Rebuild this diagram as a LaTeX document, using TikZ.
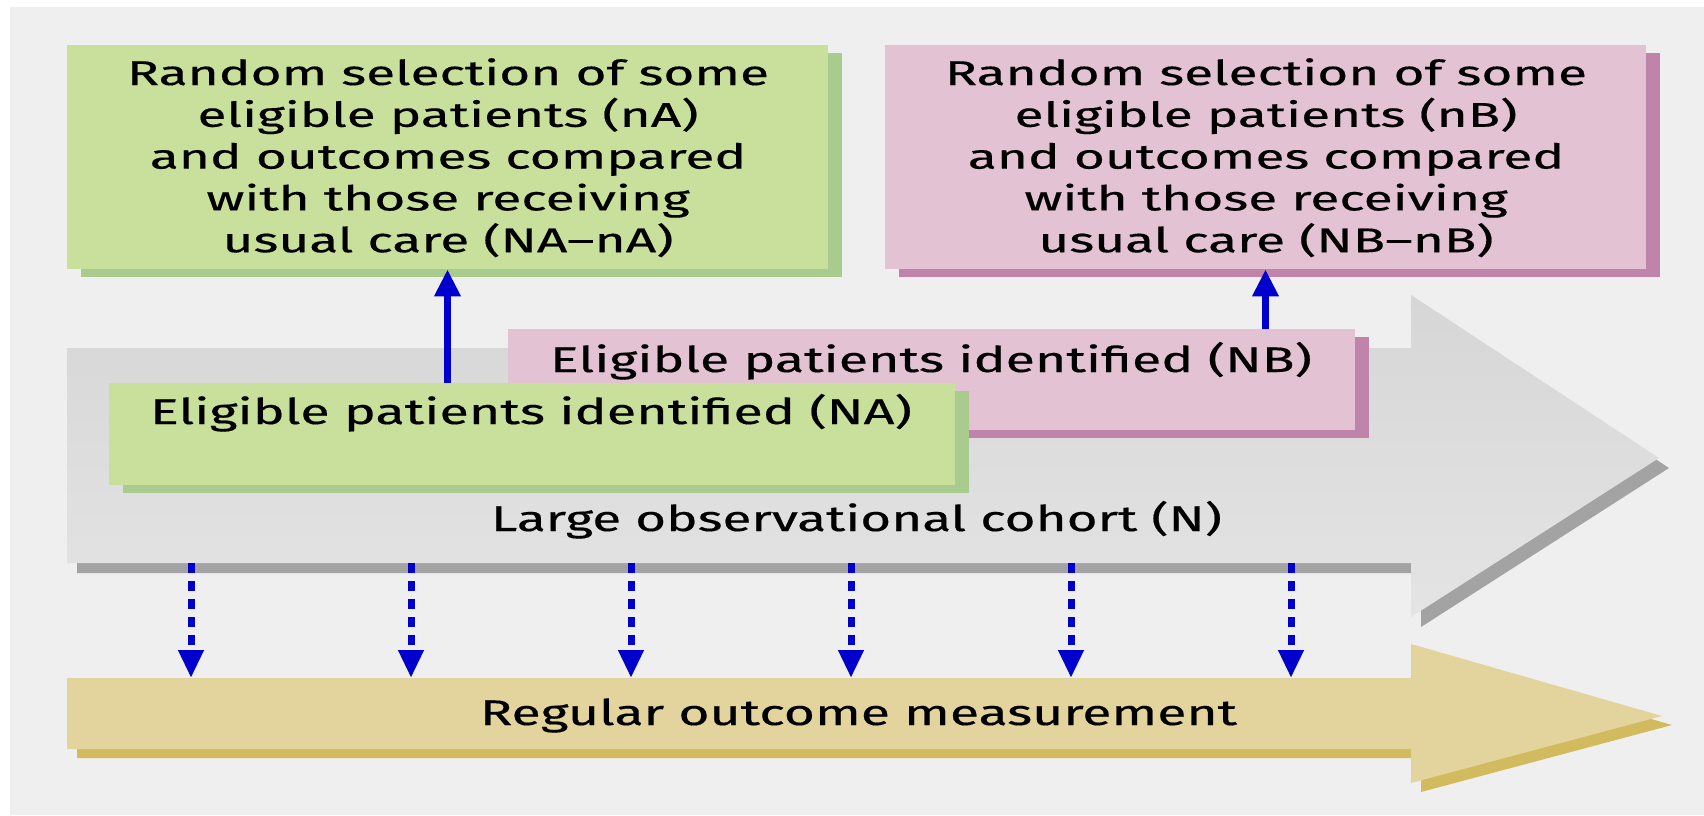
\documentclass[tikz,border=0pt]{standalone}
\usepackage{fontspec}
\setmainfont{Fira Sans}[FakeBold=0.35]
\usetikzlibrary{arrows.meta,shadows,calc}
\definecolor{bgc}{HTML}{EFEFEF}
\definecolor{gfill}{HTML}{C8E09C}
\definecolor{gshad}{HTML}{A9CB8E}
\definecolor{pfill}{HTML}{E3C2D3}
\definecolor{pshad}{HTML}{C083AA}
\definecolor{cgraytop}{HTML}{D6D6D6}
\definecolor{cgraybot}{HTML}{E4E4E4}
\definecolor{cgrayshad}{HTML}{A3A3A3}
\definecolor{tfill}{HTML}{E2D49C}
\definecolor{tshad}{HTML}{D2BA5E}
\definecolor{arrblue}{HTML}{0000CC}
\newcommand\stretchto[2]{\resizebox{#1}{\height}{#2}}
\begin{document}
\begin{tikzpicture}[x=0.5pt,y=-0.5pt,
  boxbase/.style={rectangle, draw=none, inner sep=0pt},
  gbox/.style={boxbase, fill=gfill, drop shadow={shadow xshift=7pt, shadow yshift=-4pt, fill=gshad, opacity=1}},
  pbox/.style={boxbase, fill=pfill, drop shadow={shadow xshift=7pt, shadow yshift=-4pt, fill=pshad, opacity=1}},
  txt/.style={inner sep=0pt, anchor=base, text=black},
  bigtxt/.style={txt, font=\fontsize{17.2pt}{20.9pt}\selectfont},
  onetxt/.style={txt, font=\fontsize{17.8pt}{21pt}\selectfont},
  solidarr/.style={draw=arrblue, line width=3.5pt, -{Triangle[length=13.5pt, width=12.5pt]}},
  dotarr/.style={draw=arrblue, line width=3.5pt, dash pattern=on 5pt off 4pt, -{Triangle[length=14pt, width=12pt]}}
]
\useasboundingbox (0,0) rectangle (1704,815);
\fill[white] (0,0) rectangle (1704,815);
\fill[bgc] (10,7) rectangle (1704,815);

% large cohort arrow (shadow, then body)
\fill[cgrayshad] (77,358) -- (1421,358) -- (1421,305) -- (1669,468) -- (1421,627) -- (1421,573) -- (77,573) -- cycle;
\shade[top color=cgraytop, bottom color=cgraybot] (67,348) -- (1411,348) -- (1411,295) -- (1659,458) -- (1411,617) -- (1411,563) -- (67,563) -- cycle;

% outcome measurement arrow
\fill[tshad] (77,687) -- (1421,687) -- (1421,653) -- (1672,725) -- (1421,792) -- (1421,758) -- (77,758) -- cycle;
\fill[tfill] (67,678) -- (1411,678) -- (1411,644) -- (1662,716) -- (1411,783) -- (1411,749) -- (67,749) -- cycle;

% top boxes
\node[gbox, minimum width=380.5pt, minimum height=112pt] (topA) at (447.5,157) {};
\node[pbox, minimum width=380.5pt, minimum height=112pt] (topB) at (1265.5,157) {};
\node[bigtxt] (tA) at (448,85) {\stretchto{321pt}{\begin{tabular}[t]{@{}c@{}}Random selection of some\\eligible patients (nA)\\and outcomes compared\\with those receiving\\usual care (NA–nA)\end{tabular}}};
\node[bigtxt] (tB) at (1266,85) {\stretchto{321pt}{\begin{tabular}[t]{@{}c@{}}Random selection of some\\eligible patients (nB)\\and outcomes compared\\with those receiving\\usual care (NB–nB)\end{tabular}}};

% eligible boxes
\node[pbox, minimum width=423.5pt, minimum height=50.5pt] (nb) at (931.5,379.5) {};
\node[onetxt] (nbt) at (931,372) {\stretchto{381pt}{Eligible patients identified (NB)}};
\node[gbox, minimum width=423pt, minimum height=51pt] (na) at (532,434) {};
\node[onetxt] (nat) at (531,424) {\stretchto{381pt}{Eligible patients identified (NA)}};

% texts in big arrows
\node[onetxt] (cohort) at (856.5,531) {\stretchto{365.5pt}{Large observational cohort (N)}};
\node[onetxt] (measure) at (858.5,725) {\stretchto{378.5pt}{Regular outcome measurement}};

% solid arrows up
\draw[solidarr] (topA.south |- na.north) -- (topA.south);
\draw[solidarr] (topB.south |- nb.north) -- (topB.south);

% dotted arrows down
\foreach \i/\x in {1/191,2/411,3/631,4/851,5/1071,6/1291} {
  \coordinate (o\i) at (\x,563);
  \coordinate (m\i) at (\x,678);
  \draw[dotarr] (o\i) -- (m\i);
}
\end{tikzpicture}
\end{document}
